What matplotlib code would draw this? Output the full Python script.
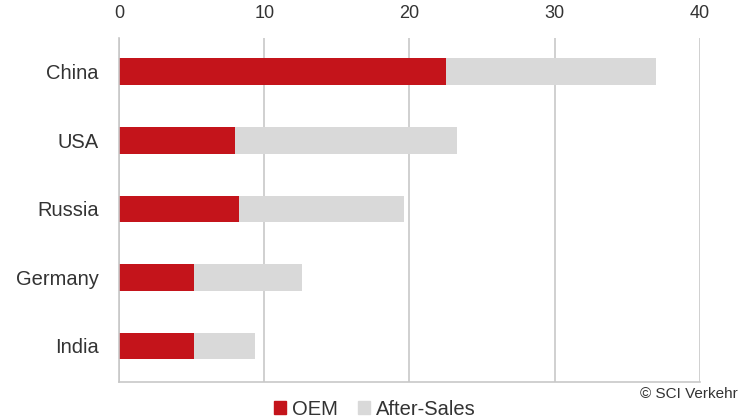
import matplotlib.pyplot as plt
from matplotlib.patches import Patch

countries = ["China", "USA", "Russia", "Germany", "India"]
oem = [22.5, 8.0, 8.25, 5.2, 5.2]
after_sales = [14.5, 15.3, 11.35, 7.4, 4.15]

red = "#c4141b"
grey = "#d9d9d9"
txt = "#333333"

plt.rcParams["font.family"] = ["Liberation Sans", "DejaVu Sans"]

fig = plt.figure(figsize=(7.39, 4.2), dpi=100)
ax = fig.add_axes([0.161, 0.0905, 0.786, 0.8202])

y = list(range(len(countries)))
ax.barh(y, oem, height=0.39, color=red, zorder=2)
ax.barh(y, after_sales, left=oem, height=0.39, color=grey, zorder=2)

ax.set_xlim(0, 40)
ax.set_ylim(4.525, -0.5)
ax.set_xticks([0, 10, 20, 30, 40])
ax.set_yticks(y)
ax.set_yticklabels(countries)

ax.xaxis.tick_top()
ax.tick_params(axis="x", length=0, pad=11.5, labelsize=13, labelcolor=txt)
ax.tick_params(axis="y", length=0, pad=14.5, labelsize=14.5, labelcolor=txt)

ax.grid(axis="x", color="#c8c8c8", linewidth=1.2, zorder=0)
for s in ["top", "right"]:
    ax.spines[s].set_visible(False)
for s in ["left", "bottom"]:
    ax.spines[s].set_color("#c8c8c8")
    ax.spines[s].set_linewidth(1.2)

handles = [Patch(color=red, label="OEM"), Patch(color=grey, label="After-Sales")]
fig.legend(handles=handles, loc="center", bbox_to_anchor=(0.507, 0.026), ncol=2,
           frameon=False, fontsize=14.5, handlelength=0.6, handleheight=0.6,
           handletextpad=0.3, columnspacing=1.0, labelcolor=txt)

fig.text(0.998, 0.062, "\u00a9 SCI Verkehr", ha="right", va="center",
         fontsize=11, color=txt)

fig.savefig("out.png", dpi=100)
